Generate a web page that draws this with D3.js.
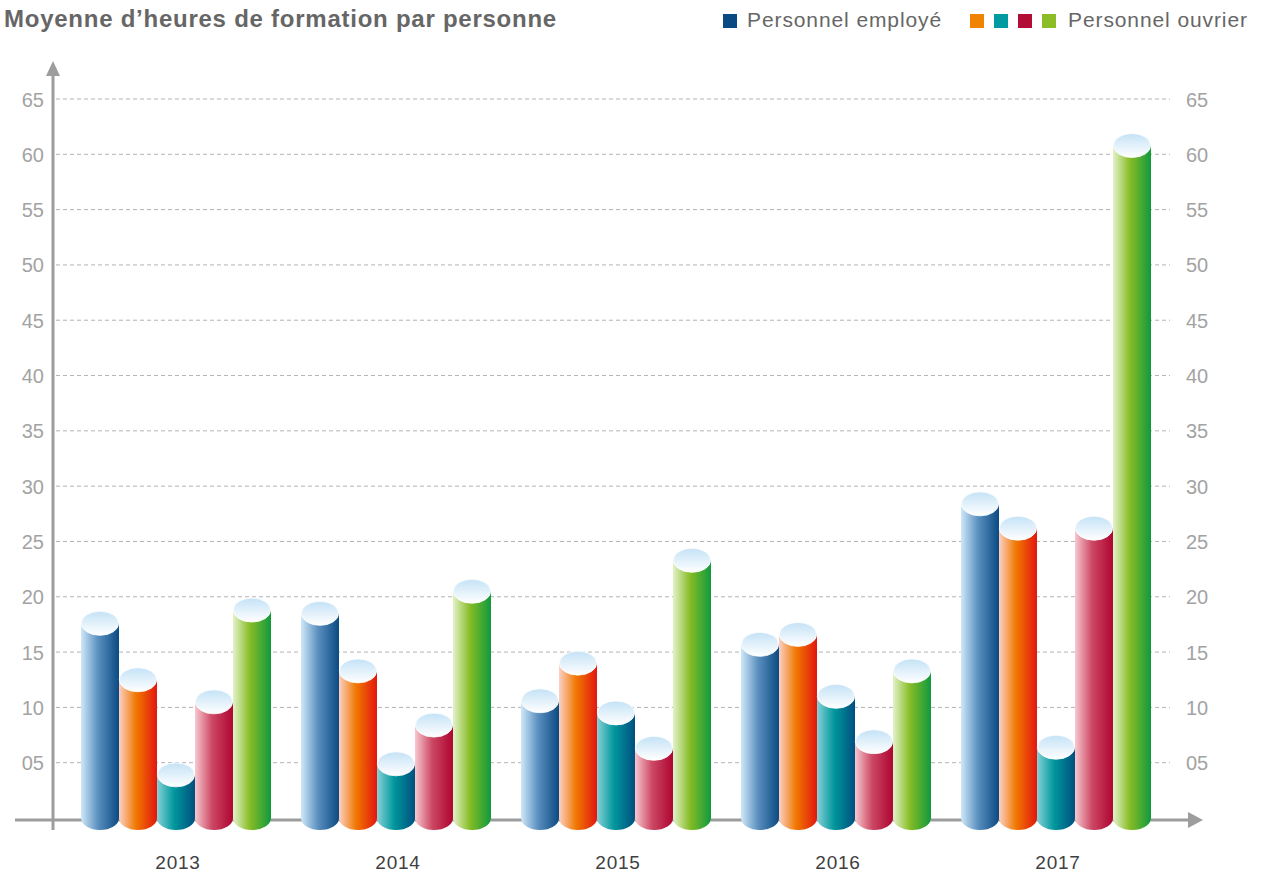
<!DOCTYPE html>
<html>
<head>
<meta charset="utf-8">
<script src="https://cdn.jsdelivr.net/npm/d3@7"></script>
<style>
  html, body { margin: 0; padding: 0; background: #ffffff; }
  svg { display: block; font-family: "Liberation Sans", Arial, sans-serif; }
</style>
</head>
<body>
<svg id="chart" width="1270" height="874"></svg>
<script>
// ---- data ----
const years = ["2013", "2014", "2015", "2016", "2017"];
const seriesNames = ["Personnel employé", "Série 2", "Série 3", "Série 4", "Personnel ouvrier"];
const employe = [17.6, 18.5, 10.6, 15.7, 28.4];
const serie2 = [12.5, 13.3, 14.0, 16.6, 26.2];
const serie3 = [3.9, 4.9, 9.5, 11.0, 6.4];
const serie4 = [10.5, 8.4, 6.3, 6.9, 26.2];
const ouvrier = [18.8, 20.5, 23.3, 13.3, 60.8];
const tickValues = [5, 10, 15, 20, 25, 30, 35, 40, 45, 50, 55, 60, 65];
const tickLabels = ["05", "10", "15", "20", "25", "30", "35", "40", "45", "50", "55", "60", "65"];

const seriesValues = [employe, serie2, serie3, serie4, ouvrier];
// gradient stops per series (left -> mid -> right) and legend color
const seriesGrad = [
  ["#cfe8f8", "#5a8fbf", "#0b4a82"],
  ["#fbd0c4", "#f07800", "#e3160f"],
  ["#86d2d6", "#00979c", "#004f80"],
  ["#f8c8cf", "#cc4864", "#ae0530"],
  ["#e3f2c9", "#86bc25", "#0f9a3d"]
];
const legendColors = ["#0a4a82", "#f08300", "#009ba0", "#b10d35", "#8dbd26"];

const svg = d3.select("#chart");
const defs = svg.append("defs");

seriesGrad.forEach((g, i) => {
  const lg = defs.append("linearGradient").attr("id", "side" + i)
    .attr("x1", "0%").attr("x2", "100%").attr("y1", "0%").attr("y2", "0%");
  lg.append("stop").attr("offset", "0%").attr("stop-color", g[0]);
  lg.append("stop").attr("offset", "45%").attr("stop-color", g[1]);
  lg.append("stop").attr("offset", "100%").attr("stop-color", g[2]);
});
const tg = defs.append("linearGradient").attr("id", "topGrad")
  .attr("x1", "0%").attr("x2", "0%").attr("y1", "0%").attr("y2", "100%");
tg.append("stop").attr("offset", "0%").attr("stop-color", "#c4e2f6");
tg.append("stop").attr("offset", "100%").attr("stop-color", "#ffffff");

// ---- scales ----
const y = d3.scaleLinear().domain([0, 65]).range([818, 99]);
const x0 = d3.scaleBand().domain(years).range([66, 1166]).paddingInner(0.1364).paddingOuter(0.0682);
const x1 = d3.scaleBand().domain(d3.range(seriesNames.length)).range([0, x0.bandwidth()]).padding(0);

const axisColor = "#9d9d9d";
const labelColor = "#a3a3a3";

// ---- gridlines ----
const grid = svg.append("g");
grid.selectAll("line").data(tickValues).join("line")
  .attr("x1", 56).attr("x2", 1170)
  .attr("y1", d => y(d)).attr("y2", d => y(d))
  .attr("stroke", "#b3b3b3").attr("stroke-width", 1).attr("stroke-dasharray", "4,3");

// left tick labels
const leftAxis = d3.axisLeft(y).tickValues(tickValues).tickFormat((d, i) => tickLabels[i]).tickSize(0).tickPadding(0);
svg.append("g").attr("transform", "translate(44,0)").call(leftAxis)
  .call(g => g.select(".domain").remove())
  .call(g => g.selectAll("text").attr("fill", labelColor).attr("font-size", 20).attr("dy", "0.35em"));
// right tick labels
const rightAxis = d3.axisRight(y).tickValues(tickValues).tickFormat((d, i) => tickLabels[i]).tickSize(0).tickPadding(0);
svg.append("g").attr("transform", "translate(1186,0)").call(rightAxis)
  .call(g => g.select(".domain").remove())
  .call(g => g.selectAll("text").attr("fill", labelColor).attr("font-size", 20).attr("dy", "0.35em"));

// ---- axes lines with arrows ----
const axisY0 = y(0) + 2;
svg.append("line").attr("x1", 15).attr("x2", 1189).attr("y1", axisY0).attr("y2", axisY0)
  .attr("stroke", axisColor).attr("stroke-width", 3);
svg.append("path").attr("d", `M1188,${axisY0 - 8} L1203,${axisY0} L1188,${axisY0 + 8} Z`).attr("fill", axisColor);
svg.append("line").attr("x1", 53).attr("x2", 53).attr("y1", 830).attr("y2", 74)
  .attr("stroke", axisColor).attr("stroke-width", 3);
svg.append("path").attr("d", `M46,76 L53,61 L60,76 Z`).attr("fill", axisColor);

// ---- cylinders ----
const ry = 12;
const groups = svg.append("g").selectAll("g").data(years).join("g")
  .attr("transform", d => `translate(${x0(d)},0)`);
groups.each(function(yr, yi) {
  const g = d3.select(this);
  seriesValues.forEach((vals, si) => {
    const v = vals[yi];
    const bx = x1(si);
    const w = x1.bandwidth();
    const cx = bx + w / 2;
    const top = y(v), base = y(0);
    // bottom ellipse
    g.append("ellipse").attr("cx", cx).attr("cy", base).attr("rx", w / 2).attr("ry", ry)
      .attr("fill", `url(#side${si})`);
    // side
    g.append("rect").attr("x", bx).attr("y", top).attr("width", w).attr("height", base - top)
      .attr("fill", `url(#side${si})`);
    // top ellipse
    g.append("ellipse").attr("cx", cx).attr("cy", top).attr("rx", w / 2 - 0.3).attr("ry", ry)
      .attr("fill", "url(#topGrad)").attr("stroke", "#ffffff").attr("stroke-width", 0.8);
  });
});

// year labels
svg.append("g").selectAll("text").data(years).join("text")
  .attr("x", d => x0(d) + x0.bandwidth() / 2 + 2)
  .attr("y", 869)
  .attr("text-anchor", "middle")
  .attr("font-size", 19).attr("letter-spacing", 0.8).attr("fill", "#404040")
  .text(d => d);

// ---- title ----
svg.append("text").attr("x", 4).attr("y", 27)
  .attr("font-size", 24).attr("font-weight", "bold").attr("letter-spacing", 0.75).attr("fill", "#666666")
  .text("Moyenne d\u2019heures de formation par personne");

// ---- legend ----
const legend = svg.append("g");
legend.append("rect").attr("x", 723).attr("y", 14).attr("width", 14).attr("height", 14).attr("fill", legendColors[0]);
legend.append("text").attr("x", 747).attr("y", 27).attr("font-size", 21).attr("letter-spacing", 0.9).attr("fill", "#666666").text(seriesNames[0]);
[1, 2, 3, 4].forEach((si, k) => {
  legend.append("rect").attr("x", 970 + k * 24).attr("y", 14).attr("width", 14).attr("height", 14).attr("fill", legendColors[si]);
});
legend.append("text").attr("x", 1068).attr("y", 27).attr("font-size", 21).attr("letter-spacing", 0.9).attr("fill", "#666666").text(seriesNames[4]);
</script>
</body>
</html>
